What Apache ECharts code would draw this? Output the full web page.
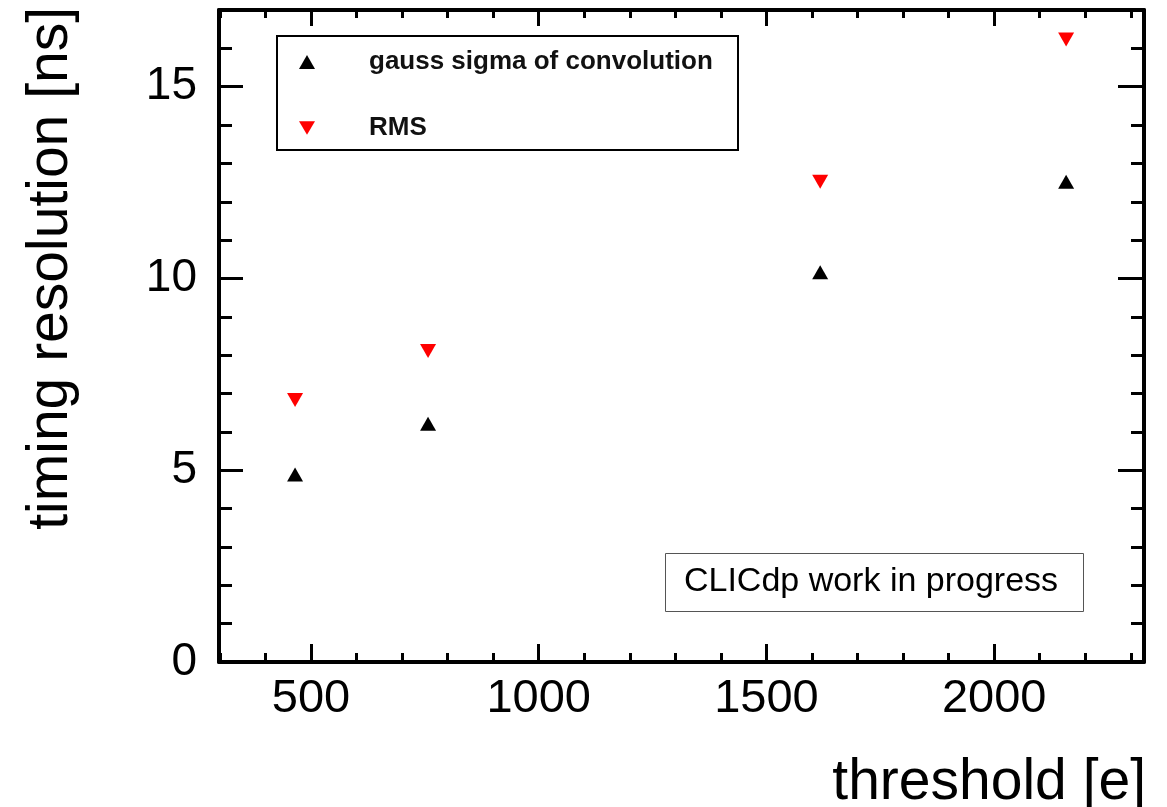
<!DOCTYPE html>
<html>
<head>
<meta charset="utf-8">
<script src="https://cdn.jsdelivr.net/npm/echarts@6/dist/echarts.min.js"></script>
<style>
html,body{margin:0;padding:0;background:#fff;}
#chart{width:1167px;height:807px;}
</style>
</head>
<body>
<div id="chart"></div>
<script>
// ---- data ----
const thresholds = [465, 757, 1618, 2158];
const gaussSigma = [4.89, 6.21, 10.16, 12.52];
const rmsValues = [6.83, 8.11, 12.52, 16.23];
const seriesNames = ['gauss sigma of convolution', 'RMS'];
const xMajorTicks = [500, 1000, 1500, 2000];
const xMinorTicks = [300, 400, 600, 700, 800, 900, 1100, 1200, 1300, 1400, 1600, 1700, 1800, 1900, 2100, 2200, 2300];
const yMajorTicks = [0, 5, 10, 15];
const yMinorTicks = [1, 2, 3, 4, 6, 7, 8, 9, 11, 12, 13, 14, 16];
const xTitle = 'threshold [e]';
const yTitle = 'timing resolution [ns]';
const stampText = 'CLICdp work in progress';

const X_MIN = 298, X_MAX = 2329, Y_MIN = 0, Y_MAX = 17;
const FONT = '"Liberation Sans", Arial, Helvetica, sans-serif';

function mkX(pos, values, len, showLine, showLabel) {
  return {
    type: 'value', position: pos, min: X_MIN, max: X_MAX,
    axisLine: {show: showLine, onZero: false, lineStyle: {color: '#000', width: 4}},
    axisTick: {show: true, inside: true, length: len, customValues: values, lineStyle: {color: '#000', width: 3}},
    axisLabel: {show: showLabel, customValues: values, margin: 14, fontSize: 47, color: '#000', fontFamily: FONT,
      formatter: v => String(v)},
    splitLine: {show: false}
  };
}
function mkY(pos, values, len, showLine, showLabel) {
  return {
    type: 'value', position: pos, min: Y_MIN, max: Y_MAX,
    axisLine: {show: showLine, onZero: false, lineStyle: {color: '#000', width: 4}},
    axisTick: {show: true, inside: true, length: len, customValues: values, lineStyle: {color: '#000', width: 3}},
    axisLabel: {show: showLabel, customValues: values, margin: 22, fontSize: 46, color: '#000', fontFamily: FONT,
      formatter: v => String(v)},
    splitLine: {show: false}
  };
}

const chart = echarts.init(document.getElementById('chart'), null, {renderer: 'canvas'});
chart.setOption({
  backgroundColor: '#fff',
  animation: false,
  grid: {left: 219, right: 23, top: 10, bottom: 145, containLabel: false, outerBoundsMode: 'none'},
  xAxis: [
    mkX('bottom', xMajorTicks, 18, true, true),
    mkX('bottom', xMinorTicks, 9, false, false),
    mkX('top', xMajorTicks, 16, true, false),
    mkX('top', xMinorTicks, 8, false, false)
  ],
  yAxis: [
    mkY('left', yMajorTicks, 24, true, true),
    mkY('left', yMinorTicks, 13, false, false),
    mkY('right', yMajorTicks, 26, true, false),
    mkY('right', yMinorTicks, 13, false, false)
  ],
  legend: {
    orient: 'vertical', left: 299, top: 49, padding: 0, itemGap: 40,
    itemWidth: 16, itemHeight: 14,
    textStyle: {fontSize: 26, fontWeight: 'bold', color: '#111', fontFamily: FONT, lineHeight: 26, padding: [0, 0, 0, 49]},
    data: seriesNames
  },
  series: [
    {
      name: seriesNames[0], type: 'scatter', xAxisIndex: 0, yAxisIndex: 0,
      symbol: 'triangle', symbolSize: [16, 14],
      itemStyle: {color: '#000', opacity: 1},
      data: thresholds.map((x, i) => [x, gaussSigma[i]])
    },
    {
      name: seriesNames[1], type: 'scatter', xAxisIndex: 0, yAxisIndex: 0,
      symbol: 'path://M0,0L20,0L10,17Z', symbolSize: [16, 14],
      itemStyle: {color: '#ff0000', opacity: 1},
      data: thresholds.map((x, i) => [x, rmsValues[i]])
    }
  ],
  graphic: [
    {type: 'rect', shape: {x: 277, y: 36, width: 461, height: 114}, style: {fill: 'none', stroke: '#000', lineWidth: 2}, z: 5},
    {type: 'rect', shape: {x: 665.5, y: 553.5, width: 418, height: 58}, style: {fill: '#fff', stroke: '#555', lineWidth: 1}, z: 5},
    {type: 'text', x: 871, y: 582, z: 6, style: {text: stampText, font: '34px ' + FONT, fill: '#000', align: 'center', verticalAlign: 'middle'}},
    {type: 'text', x: 1146, y: 783, z: 6, style: {text: xTitle, font: '57px ' + FONT, fill: '#000', align: 'right', verticalAlign: 'middle'}},
    {type: 'text', x: 51, y: 7, rotation: Math.PI / 2, z: 6, style: {text: yTitle, font: '57px ' + FONT, fill: '#000', align: 'right', verticalAlign: 'middle'}}
  ]
});
</script>
</body>
</html>
